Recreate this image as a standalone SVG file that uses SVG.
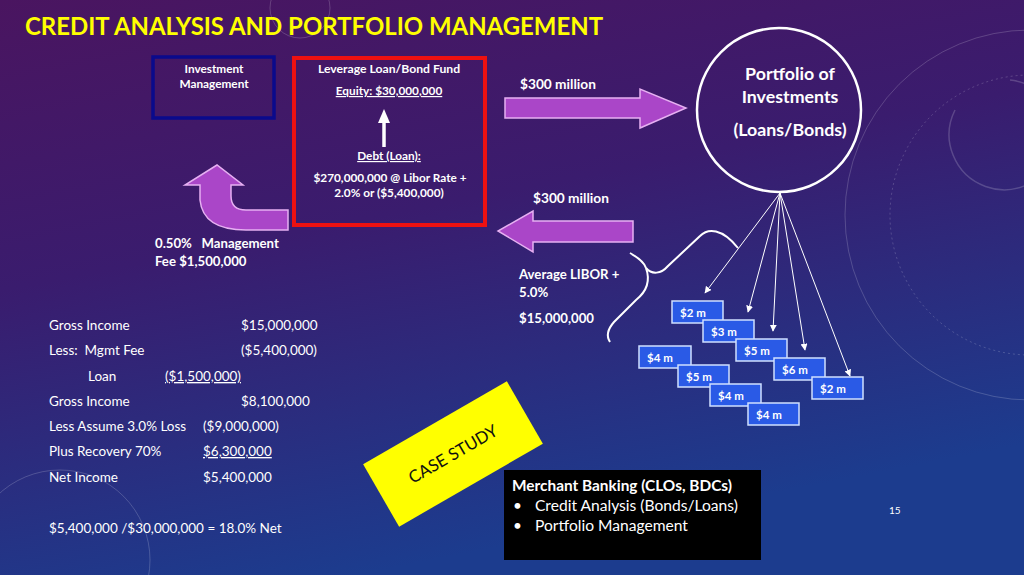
<svg xmlns="http://www.w3.org/2000/svg" width="1024" height="575" viewBox="0 0 1024 575">
<defs>
<linearGradient id="bg" x1="0" y1="0" x2="0.35" y2="1">
<stop offset="0" stop-color="#4a1560"/>
<stop offset="0.45" stop-color="#3a1c6e"/>
<stop offset="1" stop-color="#1c3c8e"/>
</linearGradient>
<marker id="ah" viewBox="0 0 10 10" refX="9" refY="5" markerWidth="7" markerHeight="7" orient="auto" markerUnits="userSpaceOnUse">
<path d="M0,0 L10,5 L0,10 z" fill="#ffffff"/>
</marker>
<style>
.t{font-family:Lato,"Open Sans","DejaVu Sans",sans-serif;fill:#ffffff}
.b{font-weight:bold}
.blk{fill:#aa46c8;stroke:#e6b0f2;stroke-width:1.5}
.inv{fill:#2a5ae6;stroke:#cfe0ff;stroke-width:1.5}
.deco{fill:none;stroke:#ffffff;stroke-opacity:0.18}
.conn{stroke:#ffffff;stroke-width:1;fill:none}
</style>
</defs>
<rect width="1024" height="575" fill="url(#bg)"/>
<g id="decor">
<circle class="deco" cx="1030" cy="215" r="185"/>
<circle class="deco" cx="1030" cy="215" r="140" stroke-dasharray="2 3"/>
<path class="deco" d="M955 110 A 55 55 0 1 0 1010 80" stroke-width="1.5"/>
<circle class="deco" cx="60" cy="560" r="90"/>
<circle class="deco" cx="300" cy="8" r="30"/>
</g>
<text class="t b" x="25" y="35" font-size="25" fill="#ffff00" style="fill:#ffff00" textLength="578" lengthAdjust="spacingAndGlyphs">CREDIT ANALYSIS AND PORTFOLIO MANAGEMENT</text>
<g id="investment-management">
<rect x="153" y="57" width="121" height="61" fill="none" stroke="#0a0a8c" stroke-width="3.5"/>
<text class="t b" x="214" y="73" font-size="11.8" text-anchor="middle">Investment</text>
<text class="t b" x="214" y="88" font-size="11.8" text-anchor="middle">Management</text>
</g>
<g id="fund">
<rect x="294" y="58" width="191" height="167" fill="none" stroke="#ee1111" stroke-width="4"/>
<text class="t b" x="389" y="73" font-size="12.2" text-anchor="middle">Leverage Loan/Bond Fund</text>
<text class="t b" x="389" y="95" font-size="11.8" text-anchor="middle" text-decoration="underline">Equity: $30,000,000</text>
<path d="M384 147 L384 122" stroke="#ffffff" stroke-width="3.5"/>
<path d="M378 123 L384 109 L390 123 z" fill="#ffffff"/>
<text class="t b" x="389" y="160" font-size="11.8" text-anchor="middle" text-decoration="underline">Debt (Loan):</text>
<text class="t b" x="390" y="182" font-size="11.8" text-anchor="middle">$270,000,000 @ Libor Rate +</text>
<text class="t b" x="389" y="197" font-size="11.8" text-anchor="middle">2.0% or ($5,400,000)</text>
</g>
<g id="portfolio">
<circle cx="779" cy="110" r="82" fill="none" stroke="#ffffff" stroke-width="2.5"/>
<text class="t b" x="790" y="80" font-size="17.8" text-anchor="middle">Portfolio of</text>
<text class="t b" x="790" y="103" font-size="17.8" text-anchor="middle">Investments</text>
<text class="t b" x="790" y="136" font-size="17.8" text-anchor="middle">(Loans/Bonds)</text>
</g>
<g id="connectors">
<path class="blk" d="M505 98 L640 98 L640 89 L686 108 L640 128 L640 118 L505 118 z"/>
<path class="blk" d="M633 221 L533 221 L533 211 L498 231 L533 252 L533 242 L633 242 z"/>
<path class="blk" d="M288 210 L246 210 Q231 210 231 196 L231 185 L243 185 L217 165 L185 185 L200 185 L200 200 Q203 230 246 230 L288 230 z"/>
<g fill="none" stroke="#ffffff" stroke-width="2">
<path d="M630 253 Q644 261 646 268"/>
<path d="M646 268 C652 275 661 274 668 266 L700 236 C708 228 722 228 738 248"/>
<path d="M646 268 C651 282 646 292 636 300 L614 322 C607 330 606 336 610 342"/>
</g>
<line class="conn" x1="780" y1="193" x2="705" y2="293" marker-end="url(#ah)"/>
<line class="conn" x1="780" y1="193" x2="748" y2="312" marker-end="url(#ah)"/>
<line class="conn" x1="780" y1="193" x2="773" y2="331" marker-end="url(#ah)"/>
<line class="conn" x1="780" y1="193" x2="805" y2="350" marker-end="url(#ah)"/>
<line class="conn" x1="780" y1="193" x2="850" y2="376" marker-end="url(#ah)"/>
</g>
<text class="t b" x="520" y="89" font-size="13.7">$300 million</text>
<text class="t b" x="533" y="203" font-size="13.7">$300 million</text>
<text class="t b" x="155" y="248" font-size="13.2" xml:space="preserve">0.50%   Management</text>
<text class="t b" x="155" y="266" font-size="13.2">Fee $1,500,000</text>
<text class="t b" x="519" y="279" font-size="13.2">Average LIBOR +</text>
<text class="t b" x="519" y="297" font-size="13.2">5.0%</text>
<text class="t b" x="519" y="323" font-size="13.2">$15,000,000</text>
<g id="box-2m-a"><rect class="inv" x="672" y="301" width="51" height="22"/><text class="t b" x="680" y="317" font-size="11.5">$2 m</text></g>
<g id="box-3m"><rect class="inv" x="703" y="320" width="51" height="22"/><text class="t b" x="711" y="336" font-size="11.5">$3 m</text></g>
<g id="box-5m-a"><rect class="inv" x="736" y="339" width="51" height="22"/><text class="t b" x="744" y="355" font-size="11.5">$5 m</text></g>
<g id="box-4m-a"><rect class="inv" x="639" y="346" width="52" height="22"/><text class="t b" x="647" y="362" font-size="11.5">$4 m</text></g>
<g id="box-6m"><rect class="inv" x="774" y="358" width="51" height="22"/><text class="t b" x="782" y="374" font-size="11.5">$6 m</text></g>
<g id="box-5m-b"><rect class="inv" x="678" y="365" width="51" height="22"/><text class="t b" x="686" y="381" font-size="11.5">$5 m</text></g>
<g id="box-2m-b"><rect class="inv" x="812" y="377" width="51" height="22"/><text class="t b" x="820" y="393" font-size="11.5">$2 m</text></g>
<g id="box-4m-b"><rect class="inv" x="710" y="384" width="51" height="22"/><text class="t b" x="718" y="400" font-size="11.5">$4 m</text></g>
<g id="box-4m-c"><rect class="inv" x="748" y="403" width="51" height="22"/><text class="t b" x="756" y="419" font-size="11.5">$4 m</text></g>
<g id="income" font-size="13.5">
<text class="t" x="49" y="330">Gross Income</text><text class="t" x="241" y="330">$15,000,000</text>
<text class="t" x="49" y="355" xml:space="preserve">Less:  Mgmt Fee</text><text class="t" x="241" y="355">($5,400,000)</text>
<text class="t" x="88" y="381">Loan</text><text class="t" x="165" y="381" text-decoration="underline">($1,500,000)</text>
<text class="t" x="49" y="406">Gross Income</text><text class="t" x="241" y="406">$8,100,000</text>
<text class="t" x="49" y="431">Less Assume 3.0% Loss</text><text class="t" x="203" y="431">($9,000,000)</text>
<text class="t" x="49" y="456">Plus Recovery 70%</text><text class="t" x="203" y="456" text-decoration="underline">$6,300,000</text>
<text class="t" x="49" y="482">Net Income</text><text class="t" x="203" y="482">$5,400,000</text>
<text class="t" x="49" y="533">$5,400,000 /$30,000,000 = 18.0% Net</text>
</g>
<g id="case-study" transform="translate(453 454) rotate(-30)">
<rect x="-83" y="-36" width="166" height="72" fill="#ffff00"/>
<text x="0" y="6" font-family="Lato,'Open Sans',sans-serif" font-size="16.8" fill="#111111" text-anchor="middle">CASE STUDY</text>
</g>
<g id="merchant-banking">
<rect x="504" y="470" width="257" height="90" fill="#000000"/>
<text class="t b" x="512" y="491" font-size="15.4">Merchant Banking (CLOs, BDCs)</text>
<text class="t" x="513" y="511" font-size="15.4">•</text><text class="t" x="535" y="511" font-size="15.6">Credit Analysis (Bonds/Loans)</text>
<text class="t" x="513" y="531" font-size="15.4">•</text><text class="t" x="535" y="531" font-size="15.6">Portfolio Management</text>
</g>
<text class="t" x="889" y="514" font-size="10">15</text>
</svg>
